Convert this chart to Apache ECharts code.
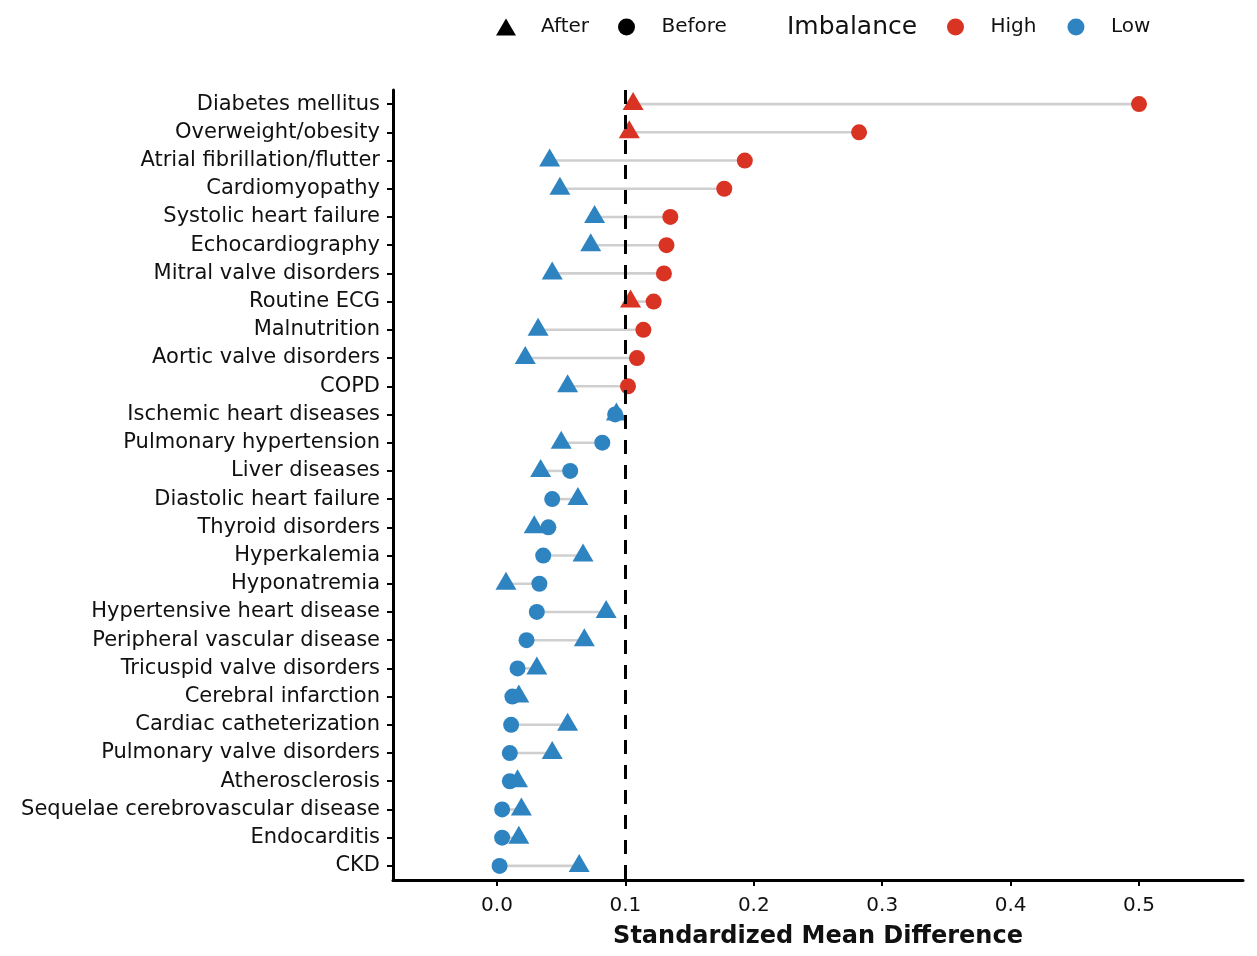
<!DOCTYPE html>
<html>
<head>
<meta charset="utf-8">
<script src="https://cdn.jsdelivr.net/npm/echarts@6.0.0/dist/echarts.min.js"></script>
<style>
  html, body { margin: 0; padding: 0; background: #fff; }
  #chart { width: 1257px; height: 956px; }
</style>
</head>
<body>
<div id="chart"></div>
<script>
// covariates, top to bottom
const covariates = [
  'Diabetes mellitus', 'Overweight/obesity', 'Atrial fibrillation/flutter', 'Cardiomyopathy',
  'Systolic heart failure', 'Echocardiography', 'Mitral valve disorders', 'Routine ECG',
  'Malnutrition', 'Aortic valve disorders', 'COPD', 'Ischemic heart diseases',
  'Pulmonary hypertension', 'Liver diseases', 'Diastolic heart failure', 'Thyroid disorders',
  'Hyperkalemia', 'Hyponatremia', 'Hypertensive heart disease', 'Peripheral vascular disease',
  'Tricuspid valve disorders', 'Cerebral infarction', 'Cardiac catheterization',
  'Pulmonary valve disorders', 'Atherosclerosis', 'Sequelae cerebrovascular disease',
  'Endocarditis', 'CKD'
];
const smdBefore = [
  0.500, 0.282, 0.193, 0.177, 0.135, 0.132, 0.130, 0.122, 0.114, 0.109, 0.102, 0.092,
  0.082, 0.057, 0.043, 0.040, 0.036, 0.033, 0.031, 0.023, 0.016, 0.012, 0.011, 0.010,
  0.010, 0.004, 0.004, 0.002
];
const smdAfter = [
  0.106, 0.103, 0.041, 0.049, 0.076, 0.073, 0.043, 0.104, 0.032, 0.022, 0.055, 0.093,
  0.050, 0.034, 0.063, 0.029, 0.067, 0.007, 0.085, 0.068, 0.031, 0.017, 0.055, 0.043,
  0.016, 0.019, 0.017, 0.064
];
const xTicks = [0, 0.1, 0.2, 0.3, 0.4, 0.5];
const threshold = 0.1;

const RED = '#d93323';
const BLUE = '#2e83c1';
const FONT = 'DejaVu Sans';

const imbalanceColor = p => (p.value[0] > threshold ? RED : BLUE);

// legend text with a spacer between icon and name
const legendText = {
  fontSize: 20, color: '#111', fontFamily: FONT,
  rich: { g: { width: 20 } }
};
const legendFmt = name => '{g|}' + name;

const chart = echarts.init(document.getElementById('chart'));

const option = {
  backgroundColor: '#fff',
  animation: false,
  textStyle: { fontFamily: FONT },
  grid: { left: 393, right: 14, top: 90, bottom: 76 },
  legend: [
    {
      left: 496, top: 17, padding: 0,
      itemWidth: 20, itemHeight: 17, itemGap: 29,
      selectedMode: false,
      formatter: legendFmt,
      textStyle: legendText,
      data: [
        { name: 'After', icon: 'triangle', itemStyle: { color: '#000' } },
        { name: 'Before', icon: 'circle', itemStyle: { color: '#000' } }
      ]
    },
    {
      left: 947, top: 17, padding: 0,
      itemWidth: 20, itemHeight: 17, itemGap: 31,
      selectedMode: false,
      formatter: legendFmt,
      textStyle: legendText,
      data: [
        { name: 'High', icon: 'circle', itemStyle: { color: RED, opacity: 1 } },
        { name: 'Low', icon: 'circle', itemStyle: { color: BLUE, opacity: 1 } }
      ]
    }
  ],
  graphic: [{
    type: 'text', left: 787, top: 15,
    style: { text: 'Imbalance', font: '25px "DejaVu Sans"', fill: '#111' }
  }],
  xAxis: {
    type: 'value',
    min: -0.081, max: 0.581,
    splitLine: { show: false },
    axisLine: { show: true, onZero: false, lineStyle: { color: '#000', width: 3 } },
    axisTick: { show: true, length: 6, lineStyle: { color: '#000', width: 2 }, customValues: xTicks },
    axisLabel: {
      fontSize: 20, color: '#111', margin: 16, fontFamily: FONT,
      customValues: xTicks,
      formatter: v => v.toFixed(1)
    },
    name: 'Standardized Mean Difference',
    nameLocation: 'middle',
    nameGap: 45,
    nameTextStyle: { fontSize: 24, fontWeight: 'bold', color: '#111', fontFamily: FONT }
  },
  yAxis: {
    type: 'category',
    data: covariates,
    inverse: true,
    axisLine: { show: true, onZero: false, lineStyle: { color: '#000', width: 3 } },
    axisTick: { show: true, alignWithLabel: true, length: 6, lineStyle: { color: '#000', width: 2 } },
    axisLabel: { fontSize: 21, color: '#111', margin: 13, fontFamily: FONT },
    splitLine: { show: false }
  },
  series: [
    {
      name: 'segments',
      type: 'custom',
      silent: true,
      encode: { x: [0, 1], y: 2 },
      data: covariates.map((c, i) => [smdBefore[i], smdAfter[i], i]),
      renderItem: (params, api) => {
        const p1 = api.coord([api.value(0), api.value(2)]);
        const p2 = api.coord([api.value(1), api.value(2)]);
        return {
          type: 'line',
          shape: { x1: p1[0], y1: p1[1], x2: p2[0], y2: p2[1] },
          style: { stroke: '#cfcfcf', lineWidth: 2.6 }
        };
      },
      z: 1
    },
    {
      name: 'Before',
      type: 'scatter',
      symbol: 'circle',
      symbolSize: 16,
      data: covariates.map((c, i) => [smdBefore[i], c]),
      itemStyle: { color: imbalanceColor, opacity: 1 },
      z: 2
    },
    {
      name: 'After',
      type: 'scatter',
      symbol: 'triangle',
      symbolSize: [21, 18],
      symbolOffset: [0, -3],
      data: covariates.map((c, i) => [smdAfter[i], c]),
      itemStyle: { color: imbalanceColor, opacity: 1 },
      z: 3
    },
    { name: 'High', type: 'scatter', data: [], itemStyle: { color: RED, opacity: 1 } },
    { name: 'Low', type: 'scatter', data: [], itemStyle: { color: BLUE, opacity: 1 } },
    {
      name: 'threshold',
      type: 'scatter',
      data: [],
      z: 5,
      markLine: {
        silent: true,
        symbol: ['none', 'none'],
        label: { show: false },
        lineStyle: { color: '#000', width: 3, type: [14, 11] },
        data: [{ xAxis: threshold }]
      }
    }
  ]
};

chart.setOption(option);
</script>
</body>
</html>
